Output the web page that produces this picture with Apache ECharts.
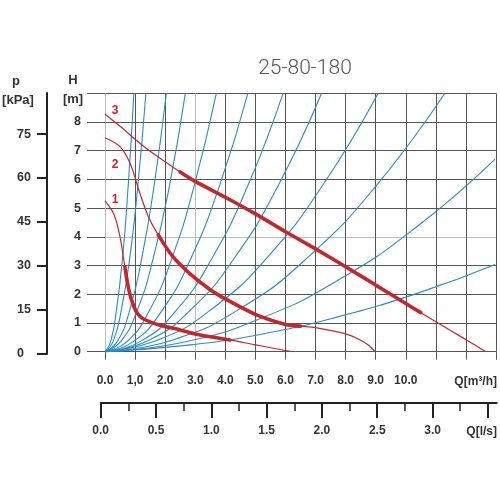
<!DOCTYPE html>
<html><head><meta charset="utf-8">
<script src="https://cdn.jsdelivr.net/npm/echarts@6/dist/echarts.min.js"></script>
<style>html,body{margin:0;padding:0;background:#fff}#c{width:500px;height:500px}</style>
</head><body><div id="c"></div>
<script>
// ---- tick labels ----
const qLabels = ['0.0','1,0','2.0','3.0','4.0','5.0','6.0','7.0','8.0','9.0','10.0'];
const hLabels = [0,1,2,3,4,5,6,7,8];
const pTicks = [0,15,30,45,60,75];
const lsMajor = [0,0.5,1,1.5,2,2.5,3,3.5];
const lsMinor = [0.25,0.75,1.25,1.75,2.25,2.75,3.25];
const lsLabels = [0,0.5,1,1.5,2,2.5,3];

// ---- system curves [Q m3/h, H m] ----
const sys1 = [[0,0],[0.19,0.36],[0.38,1.44],[0.58,3.24],[0.77,5.76],[0.96,9]];
const sys2 = [[0,0],[0.27,0.36],[0.54,1.44],[0.82,3.24],[1.09,5.76],[1.36,9]];
const sys3 = [[0,0],[0.41,0.36],[0.82,1.44],[1.22,3.24],[1.63,5.76],[2.04,9]];
const sys4 = [[0,0],[0.53,0.36],[1.07,1.44],[1.60,3.24],[2.14,5.76],[2.67,9]];
const sys5 = [[0,0],[0.74,0.36],[1.48,1.44],[2.22,3.24],[2.96,5.76],[3.70,9]];
const sys6 = [[0,0],[0.95,0.36],[1.90,1.44],[2.85,3.24],[3.80,5.76],[4.75,9]];
const sys7 = [[0,0],[1.18,0.36],[2.37,1.44],[3.55,3.24],[4.74,5.76],[5.92,9]];
const sys8 = [[0,0],[1.44,0.39],[2.88,1.49],[4.32,3.29],[5.76,5.79],[7.2,9]];
const sys9 = [[0,0],[1.82,0.43],[3.63,1.55],[5.45,3.35],[7.26,5.83],[9.08,9]];
const sys10 = [[0,0],[2.26,0.41],[4.52,1.52],[6.78,3.32],[9.04,5.81],[11.3,9]];
const sys11 = [[0,0],[2.6,0.33],[5.2,1.17],[7.8,2.52],[10.4,4.38],[12.97,6.71]];
const sys12 = [[0,0],[2.6,0.21],[5.2,0.61],[7.8,1.23],[10.4,2.04],[12.97,3.04]];
const systemCurves = [sys1,sys2,sys3,sys4,sys5,sys6,sys7,sys8,sys9,sys10,sys11,sys12];

// ---- pump curves [Q m3/h, H m] ----
const pump1 = [[0,5.25],[0.3,4.78],[0.5,4.0],[0.66,2.96],[0.8,2.12],[0.95,1.6],[1.1,1.3],[1.3,1.13],[1.8,0.93],[2.5,0.76],[3.0,0.62],[3.5,0.52],[4.15,0.41],[5.0,0.24],[5.6,0.12],[6.2,0]];
const pump2 = [[0,7.45],[0.5,7.14],[0.85,6.52],[1.15,5.55],[1.45,4.68],[1.77,4.07],[2.25,3.32],[2.8,2.74],[3.5,2.16],[4.0,1.84],[5.0,1.3],[6.0,0.95],[6.5,0.89],[7.0,0.84],[8.0,0.62],[8.5,0.4],[8.8,0.2],[8.97,0]];
const pump3 = [[0,8.27],[0.5,7.85],[1.0,7.4],[1.5,6.98],[2.0,6.62],[2.5,6.26],[3.0,5.93],[4.0,5.38],[5.0,4.8],[6.0,4.18],[7.0,3.58],[8.0,2.96],[9.0,2.32],[10.0,1.68],[10.5,1.36],[11.0,1.04],[12.0,0.42],[12.66,0]];
const pumpCurves = [pump1,pump2,pump3];
const pumpThick = [[0.66,4.15],[1.77,6.5],[2.5,10.5]];
const pumpNames = ['1','2','3'];

const BLUE = '#2a8ac4', RED = '#c4262c', GRID = '#555', LIGHT = '#bbb', DARK = '#222';
const FONT = 'Liberation Sans, Arial, sans-serif';

const xSplitColors = [LIGHT,GRID,GRID,LIGHT,GRID,GRID,GRID,GRID,GRID,GRID,GRID,GRID,GRID,GRID];
const ySplitColors = [GRID,GRID,GRID,GRID,LIGHT,GRID,GRID,GRID,GRID,GRID];

const series = [];
systemCurves.forEach(d => series.push({
  type:'line', xAxisIndex:0, yAxisIndex:0, data:d, smooth:true, symbol:'none',
  lineStyle:{color:BLUE,width:1.1}, silent:true
}));
pumpCurves.forEach((d,i) => {
  series.push({type:'line', xAxisIndex:0, yAxisIndex:0, data:d, smooth:0.3, symbol:'none',
    lineStyle:{color:RED,width:1.2}, silent:true});
  const [a,b] = pumpThick[i];
  series.push({type:'line', xAxisIndex:0, yAxisIndex:0, data:d.filter(p=>p[0]>=a&&p[0]<=b), smooth:0.3, symbol:'none',
    lineStyle:{color:RED,width:3.6,cap:'round'}, silent:true});
});

const chart = echarts.init(document.getElementById('c'), null, {renderer:'canvas'});
chart.setOption({
  animation:false,
  grid:[
    {left:105, top:93.3, width:391, height:258.4},
    {left:47, top:93, width:1, height:261},
    {left:100.7, top:402, width:396, height:1},
    {left:100.7, top:402, width:396, height:1}
  ],
  xAxis:[
    {gridIndex:0, type:'value', min:0, max:13, interval:1,
     axisLine:{show:false},
     axisTick:{show:true, length:8, inside:false, lineStyle:{color:GRID,width:1}},
     splitLine:{show:true, lineStyle:{color:xSplitColors,width:1}},
     axisLabel:{margin:23, fontFamily:FONT, fontWeight:'bold', fontSize:12, color:'#333',
       formatter:v => (qLabels[Math.round(v)] !== undefined ? qLabels[Math.round(v)] : '')}},
    {gridIndex:1, type:'value', show:false},
    {gridIndex:2, type:'value', min:0, max:3.58, position:'bottom',
     axisLine:{show:true, lineStyle:{color:DARK,width:2}},
     axisTick:{show:true, length:15, customValues:lsMajor, lineStyle:{color:DARK,width:2}},
     axisLabel:{customValues:lsLabels, margin:22, fontFamily:FONT, fontWeight:'bold', fontSize:12, color:'#333',
       formatter:v => v.toFixed(1)},
     splitLine:{show:false}},
    {gridIndex:3, type:'value', min:0, max:3.58, position:'bottom',
     axisLine:{show:false},
     axisTick:{show:true, length:8, customValues:lsMinor, lineStyle:{color:DARK,width:1.5}},
     axisLabel:{show:false}, splitLine:{show:false}}
  ],
  yAxis:[
    {gridIndex:0, type:'value', min:0, max:9, interval:1,
     axisLine:{show:false},
     axisTick:{show:true, length:18, inside:false, lineStyle:{color:GRID,width:1}},
     splitLine:{show:true, lineStyle:{color:ySplitColors,width:1}},
     axisLabel:{customValues:hLabels, margin:24, fontFamily:FONT, fontWeight:'bold', fontSize:12.5, color:'#333'}},
    {gridIndex:1, type:'value', min:0, max:89, position:'left',
     axisLine:{show:true, lineStyle:{color:DARK,width:2}},
     axisTick:{show:true, length:10, customValues:pTicks, lineStyle:{color:DARK,width:2}},
     axisLabel:{customValues:pTicks, align:'left', margin:30, fontFamily:FONT, fontWeight:'bold', fontSize:12.5, color:'#333'},
     splitLine:{show:false}},
    {gridIndex:2, type:'value', show:false},
    {gridIndex:3, type:'value', show:false}
  ],
  series: series,
  graphic:[
    {type:'text', style:{text:'25-80-180', x:305, y:69, align:'center', verticalAlign:'middle', fill:'#555', font:'300 21px Roboto, "Open Sans", sans-serif'}},
    {type:'text', style:{text:'H', x:73, y:80, align:'center', verticalAlign:'middle', fill:'#333', font:'bold 13px '+FONT}},
    {type:'text', style:{text:'[m]', x:73, y:99, align:'center', verticalAlign:'middle', fill:'#333', font:'bold 13px '+FONT}},
    {type:'text', style:{text:'p', x:16, y:81, align:'center', verticalAlign:'middle', fill:'#333', font:'bold 13px '+FONT}},
    {type:'text', style:{text:'[kPa]', x:18, y:100.5, align:'center', verticalAlign:'middle', fill:'#333', font:'bold 13px '+FONT}},
    {type:'text', style:{text:'Q[m³/h]', x:497, y:381.5, align:'right', verticalAlign:'middle', fill:'#333', font:'bold 12px '+FONT}},
    {type:'text', style:{text:'Q[l/s]', x:497, y:431.5, align:'right', verticalAlign:'middle', fill:'#333', font:'bold 12px '+FONT}},
    {type:'text', style:{text:pumpNames[2], x:115, y:111, align:'center', verticalAlign:'middle', fill:RED, font:'bold 12px '+FONT}},
    {type:'text', style:{text:pumpNames[1], x:115, y:165, align:'center', verticalAlign:'middle', fill:RED, font:'bold 12px '+FONT}},
    {type:'text', style:{text:pumpNames[0], x:115, y:199.5, align:'center', verticalAlign:'middle', fill:RED, font:'bold 12px '+FONT}}
  ]
});
</script>
</body></html>
